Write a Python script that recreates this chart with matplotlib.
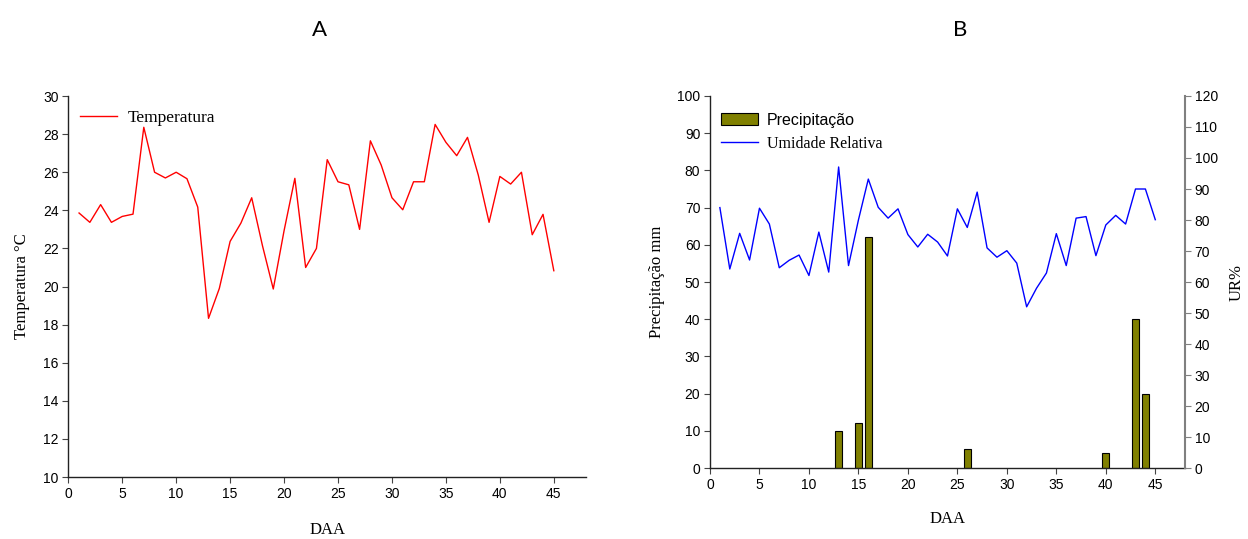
import numpy as np
import matplotlib
matplotlib.use("Agg")
import matplotlib.pyplot as plt
from matplotlib.patches import Patch
from matplotlib.lines import Line2D

# dias após a aplicação
daa = np.arange(1, 46)

temperatura = [23.86, 23.37, 24.30, 23.37, 23.68, 23.80, 28.36, 26.00, 25.70, 26.00,
               25.66, 24.17, 18.33, 19.90, 22.37, 23.33, 24.66, 22.14, 19.87, 22.93,
               25.68, 21.00, 22.00, 26.66, 25.50, 25.34, 23.00, 27.65, 26.38, 24.66,
               24.03, 25.50, 25.50, 28.51, 27.57, 26.87, 27.83, 25.85, 23.37, 25.78,
               25.38, 26.00, 22.72, 23.79, 20.83]

umidade = [84.0, 64.2, 75.7, 67.1, 83.8, 78.7, 64.6, 67.0, 68.7, 62.1,
           76.1, 63.2, 97.1, 65.3, 80.0, 93.2, 84.1, 80.6, 83.6, 75.3,
           71.3, 75.4, 72.9, 68.4, 83.6, 77.6, 89.0, 71.0, 68.0, 70.1,
           66.1, 52.0, 58.0, 62.9, 75.6, 65.3, 80.6, 81.1, 68.5, 78.4,
           81.5, 78.7, 90.0, 90.0, 80.1]

chuva_dias = [13, 15, 16, 26, 40, 43, 44]
chuva_mm = [10, 12, 62, 5, 4, 40, 20]

SANS = "Liberation Sans"
SERIF = "Liberation Serif"

fig = plt.figure(figsize=(12.48, 5.39), dpi=100)

ax_a = fig.add_axes([0.0547, 0.115, 0.4150, 0.7068])
ax_b = fig.add_axes([0.5689, 0.1317, 0.3806, 0.6902])


def estilo(ax):
    ax.spines["top"].set_visible(False)
    ax.spines["right"].set_visible(False)
    for s in ("left", "bottom"):
        ax.spines[s].set_color("#222222")
        ax.spines[s].set_linewidth(1.0)
    ax.tick_params(direction="out", length=4, width=0.8, color="#444444",
                   labelsize=10, pad=3)
    for lab in ax.get_xticklabels() + ax.get_yticklabels():
        lab.set_family(SANS)
    ax.set_xlim(0, 48)
    ax.set_xticks(range(0, 46, 5))


# ---- A: temperatura
ax_a.plot(daa, temperatura, color="#ff0000", lw=1.0, label="Temperatura")
ax_a.set_ylim(10, 30)
ax_a.set_yticks(range(10, 31, 2))
estilo(ax_a)
ax_a.set_xlabel("DAA", family=SERIF, fontsize=12, labelpad=15)
ax_a.set_ylabel("Temperatura °C", family=SERIF, fontsize=12, labelpad=9)
leg_a = ax_a.legend(loc="upper left", bbox_to_anchor=(0.0, 0.995), frameon=False,
                    handlelength=2.1, handletextpad=0.6, borderaxespad=0.3,
                    prop={"family": SERIF, "size": 12.5})

# ---- B: precipitação e umidade relativa
ax_b.bar(chuva_dias, chuva_mm, width=0.7, color="#808000", edgecolor="black",
         linewidth=0.8, zorder=2)
ax_b.set_ylim(0, 100)
ax_b.set_yticks(range(0, 101, 10))
estilo(ax_b)
ax_b.set_xlabel("DAA", family=SERIF, fontsize=12, labelpad=14)
ax_b.set_ylabel("Precipitação mm", family=SERIF, fontsize=12, labelpad=9)

ax_ur = ax_b.twinx()
ax_ur.plot(daa, umidade, color="#0000ff", lw=1.0)
ax_ur.set_ylim(0, 120)
ax_ur.set_yticks(range(0, 121, 10))
for s in ("top", "left", "bottom"):
    ax_ur.spines[s].set_visible(False)
ax_ur.spines["right"].set_color("#808080")
ax_ur.spines["right"].set_linewidth(1.5)
ax_ur.tick_params(direction="out", length=4, width=0.8, color="#808080",
                  labelsize=10, pad=3)
for lab in ax_ur.get_yticklabels():
    lab.set_family(SANS)
ax_ur.set_ylabel("UR%", family=SERIF, fontsize=12, labelpad=8)

handles = [Patch(facecolor="#808000", edgecolor="black", linewidth=0.8),
           Line2D([], [], color="#0000ff", lw=1.0)]
leg_b = ax_ur.legend(handles, ["Precipitação", "Umidade Relativa"],
                     loc="upper left", bbox_to_anchor=(0.0, 0.985), frameon=False,
                     handlelength=2.3, handleheight=0.75, handletextpad=0.55,
                     labelspacing=0.5, borderaxespad=0.3,
                     prop={"family": SERIF, "size": 11.5})
leg_b.get_texts()[0].set_family(SANS)

fig.text(0.2564, 0.945, "A", family="Lato", fontsize=16, ha="center", va="center")
fig.text(0.7692, 0.945, "B", family="Lato", fontsize=16, ha="center", va="center")

fig.savefig("out.png", dpi=100)
